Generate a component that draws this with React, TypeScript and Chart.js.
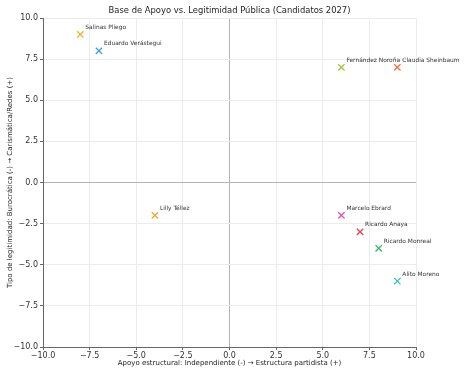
import React, { useEffect, useRef } from "react";
import { Chart, registerables } from "chart.js";

Chart.register(...registerables);

const names = [
  "Claudia Sheinbaum",
  "Fernández Noroña",
  "Ricardo Monreal",
  "Marcelo Ebrard",
  "Ricardo Anaya",
  "Lilly Téllez",
  "Salinas Pliego",
  "Eduardo Verástegui",
  "Alito Moreno",
];
const xValues = [9, 6, 8, 6, 7, -4, -8, -7, 9];
const yValues = [7, 7, -4, -2, -3, -2, 9, 8, -6];
const colors = [
  "#ef6f45",
  "#9fc73d",
  "#34b463",
  "#e053c2",
  "#e2445e",
  "#f0a534",
  "#eeb032",
  "#33a6df",
  "#35c8bd",
];
const title = "Base de Apoyo vs. Legitimidad Pública (Candidatos 2027)";
const xTitle = "Apoyo estructural: Independiente (-) → Estructura partidista (+)";
const yTitle = "Tipo de legitimidad: Burocrática (-) → Carismática/Redes (+)";

const FONT = "'DejaVu Sans', sans-serif";

const fmt = (v: number) => (v < 0 ? "\u2212" : "") + Math.abs(v).toFixed(1);

export default function App() {
  const ref = useRef<HTMLCanvasElement | null>(null);
  useEffect(() => {
    if (!ref.current) return;
    const textPlugin = {
      id: "texts",
      afterDatasetsDraw(chart: any) {
        const ctx = chart.ctx;
        const ca = chart.chartArea;
        const xs = chart.scales.x;
        const ys = chart.scales.y;
        ctx.save();
        ctx.fillStyle = "#333333";
        ctx.font = `5.9px ${FONT}`;
        ctx.textAlign = "left";
        ctx.textBaseline = "middle";
        names.forEach((n, i) => {
          const px = xs.getPixelForValue(xValues[i]);
          const py = ys.getPixelForValue(yValues[i]);
          ctx.fillText(n, px + 5, py - 7);
        });
        ctx.fillStyle = "#222222";
        ctx.font = `8.4px ${FONT}`;
        ctx.textAlign = "center";
        ctx.fillText(title, (ca.left + ca.right) / 2, 11);
        ctx.font = `7px ${FONT}`;
        ctx.fillText(xTitle, (ca.left + ca.right) / 2, 363);
        ctx.translate(10, (ca.top + ca.bottom) / 2);
        ctx.rotate(-Math.PI / 2);
        ctx.fillText(yTitle, 0, 0);
        ctx.restore();
      },
    };
    const gridColor = (c: any) =>
      c.tick && c.tick.value === 0 ? "#b4b4b4" : "#ececec";
    const chart = new Chart(ref.current, {
      type: "scatter",
      data: {
        datasets: [
          {
            data: xValues.map((x, i) => ({ x, y: yValues[i] })),
            pointStyle: "crossRot",
            pointRadius: 4.5,
            pointBorderWidth: 1.3,
            pointBorderColor: colors,
            pointBackgroundColor: colors,
          },
        ],
      },
      options: {
        animation: false,
        responsive: false,
        maintainAspectRatio: false,
        layout: { padding: { top: 18, right: 52, left: 0, bottom: 0 } },
        plugins: {
          legend: { display: false },
          tooltip: { enabled: false },
          title: { display: false },
        },
        scales: {
          x: {
            type: "linear",
            min: -10,
            max: 10,
            afterFit: (s: any) => {
              s.height = 27;
            },
            ticks: {
              stepSize: 2.5,
              callback: (v: any) => fmt(Number(v)),
              font: { family: FONT, size: 8 },
              color: "#333333",
              padding: 1,
              maxRotation: 0,
            },
            grid: {
              color: gridColor,
              lineWidth: 1,
              tickLength: 3,
              tickColor: "#666666",
            },
            border: { color: "#666666", width: 1 },
          },
          y: {
            type: "linear",
            min: -10,
            max: 10,
            afterFit: (s: any) => {
              s.width = 43;
            },
            ticks: {
              stepSize: 2.5,
              callback: (v: any) => fmt(Number(v)),
              font: { family: FONT, size: 8 },
              color: "#333333",
              padding: 2,
            },
            grid: {
              color: gridColor,
              lineWidth: 1,
              tickLength: 3,
              tickColor: "#666666",
            },
            border: { color: "#666666", width: 1 },
          },
        },
      },
      plugins: [textPlugin],
    } as any);
    return () => chart.destroy();
  }, []);
  return (
    <div style={{ position: "fixed", left: 0, top: 0, width: 468, height: 374, background: "#fff" }}>
      <canvas ref={ref} width={468} height={374} style={{ width: 468, height: 374 }} />
    </div>
  );
}
